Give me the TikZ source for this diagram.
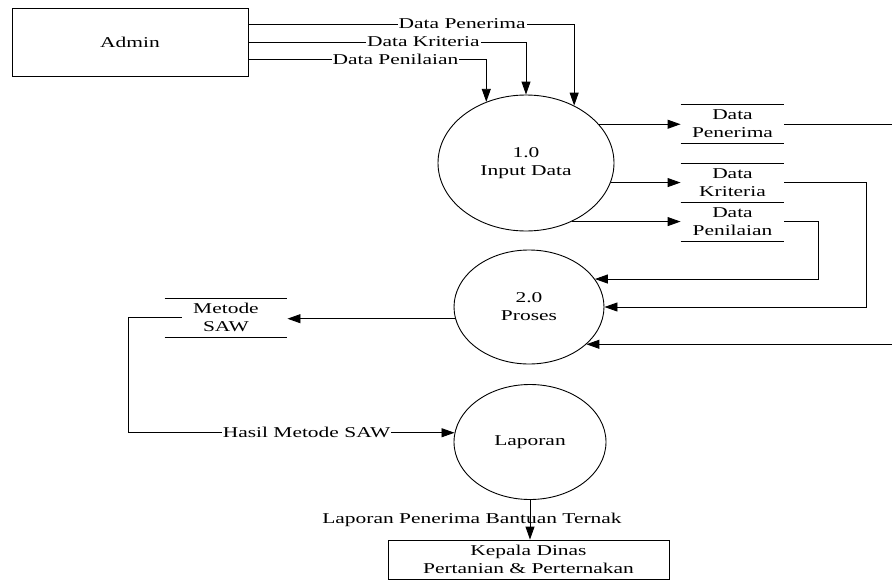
\documentclass[tikz,border=0pt]{standalone}
\usepackage{fontspec}
\setmainfont{Liberation Serif}[FakeStretch=1.43]
\usetikzlibrary{arrows.meta,shapes.geometric,positioning}
\tikzset{
    %Define standard arrow tip
    >={Triangle[length=13pt,width=9pt]},
    %Define style for boxes
    entity/.style={
           rectangle,
           draw=black,
           minimum width=236pt,
           minimum height=68pt,
           align=center},
    proc/.style={
           ellipse,
           draw=black,
           inner sep=0pt,
           align=center},
    store/.style={
           rectangle,
           minimum width=103pt,
           minimum height=38pt,
           inner sep=0pt,
           align=center,
           append after command={
             (\tikzlastnode.north west) edge[-] (\tikzlastnode.north east)
             (\tikzlastnode.south west) edge[-] (\tikzlastnode.south east)}},
    % Define label style
    lbl/.style={
           fill=white,
           inner sep=1pt}
}
\begin{document}
\begin{tikzpicture}[x=1pt,y=-1pt,line width=0.9pt,
  every node/.style={font=\fontsize{15pt}{18pt}\selectfont}]
\useasboundingbox (0,0) rectangle (892,581);

 %nodes
\node[entity] (admin) at (130,42) {Admin};
\node[proc, minimum width=176pt, minimum height=136pt] (p1) at (526,163) {1.0\\Input Data};
\node[proc, minimum width=150pt, minimum height=114pt] (p2) at (529,307) {2.0\\Proses};
\node[proc, minimum width=152pt, minimum height=115pt] (p3) at (530,442) {Laporan};
\node[store] (spen) at (732.5,124) {Data\\Penerima};
\node[store] (skri) at (732.5,182.5) {Data\\Kriteria};
\node[store] (snil) at (732.5,221.5) {Data\\Penilaian};
\node[store, minimum width=122pt] (saw) at (226,317.5) {Metode\\SAW};
\node[entity, minimum width=281pt, minimum height=39pt] (kadin) at (528.5,559.5)
  {Kepala Dinas\\Pertanian \& Perternakan};
\coordinate (epen) at (892,124);
\coordinate (ein) at (892,344);

 %flows
\draw[->] ([yshift=18pt]admin.east) -| node[lbl, pos=0.328]{Data Penerima} (p1.50);
\draw[->] (admin.east) -| node[lbl, pos=0.315]{Data Kriteria} (p1.north);
\draw[->] ([yshift=-17pt]admin.east) -| node[lbl, pos=0.309]{Data Penilaian} (p1.123);

\draw[->] (p1.28) -- (p1.28 -| spen.west);
\draw[->] (p1.-13) -- (p1.-13 -| skri.west);
\draw[->] (p1.-52) -- (p1.-52 -| snil.west);
\draw (spen.east) -- (epen);

\draw[->] (skri.east) -- ++(82,0) |- (p2.east);
\draw[->] (snil.east) -- ++(34,0) |- (p2.23);
\draw[->] (p2.-33 -| ein) -- (p2.-33);

\draw[->] (p2.189) -- (p2.189 -| saw.east);
\draw[->] ([xshift=17pt]saw.west) -- ++(-53,0) |- node[lbl, pos=0.773]{Hasil Metode SAW} (p3.173);

\draw[->] (p3.south) -- node[xshift=-58pt]{Laporan Penerima Bantuan Ternak} (p3.south |- kadin.north);

\end{tikzpicture}
\end{document}
